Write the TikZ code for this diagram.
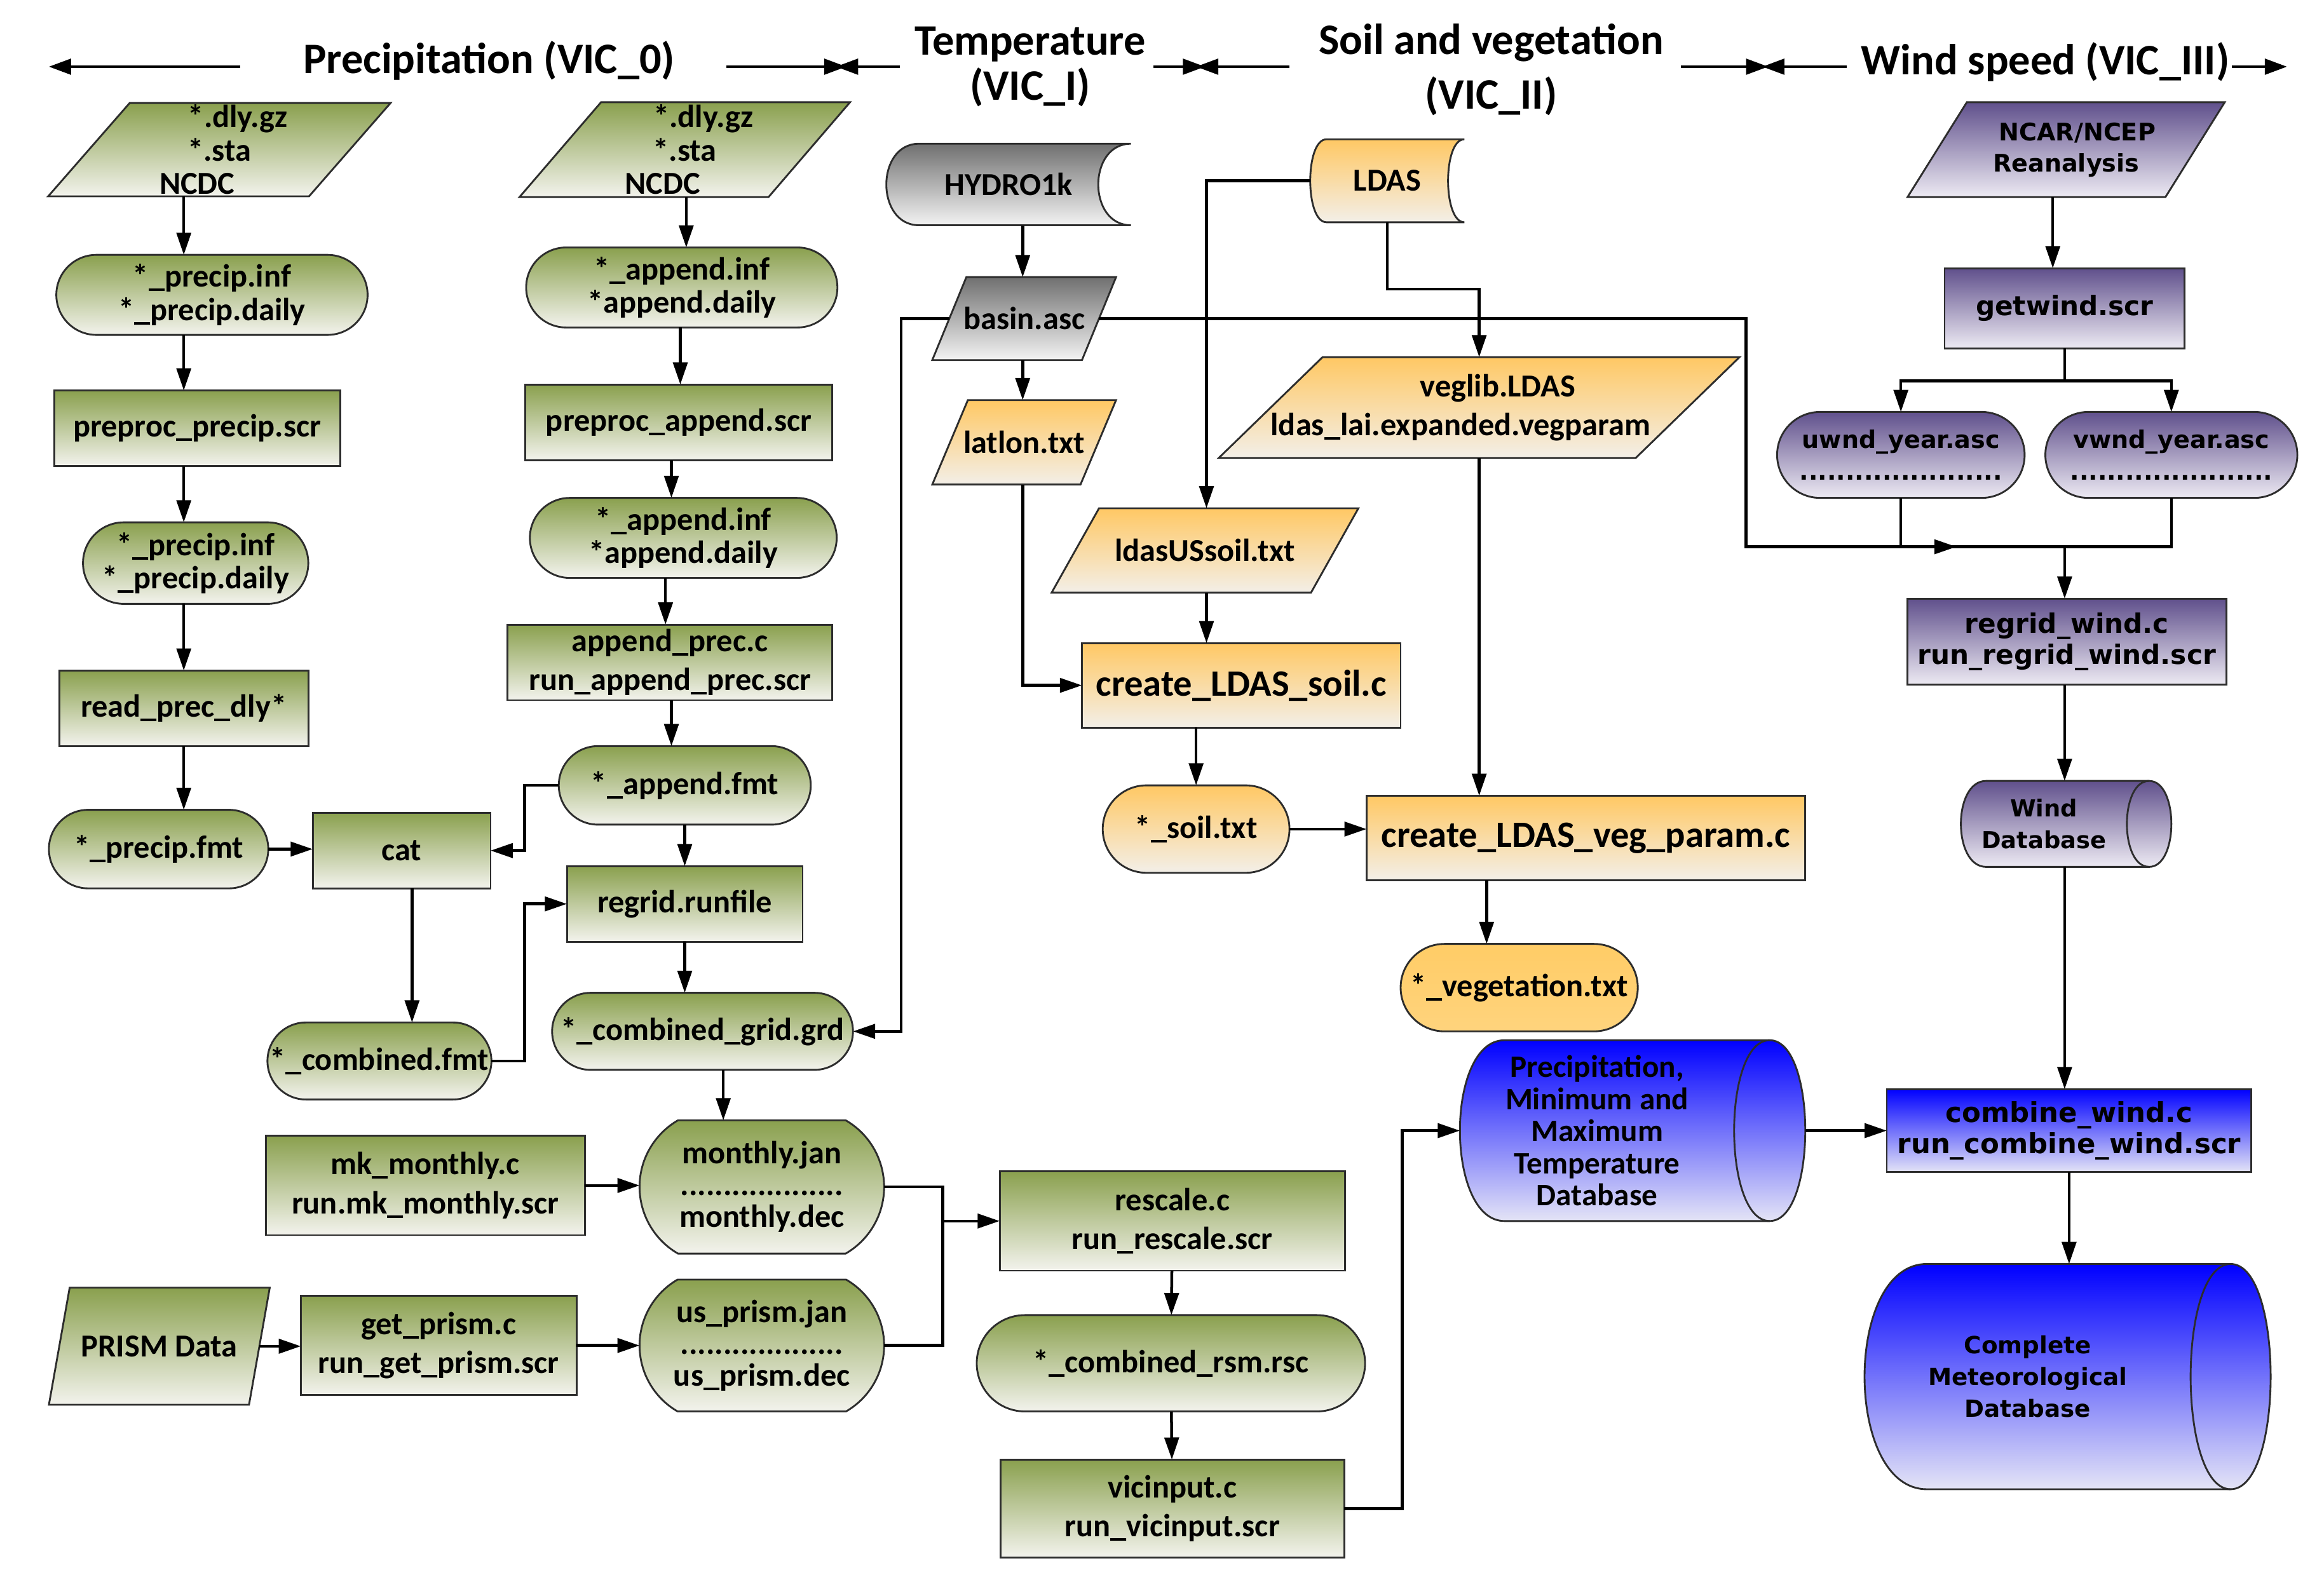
\documentclass[tikz,border=0pt]{standalone}
\usepackage{fontspec}
\setmainfont{Carlito}
\newfontfamily\dvfont{DejaVu Sans}
\usetikzlibrary{shapes.misc,arrows.meta,calc}
\pgfdeclarelayer{bg}
\pgfsetlayers{bg,main}
\definecolor{gtop}{RGB}{138,160,78}
\definecolor{gbot}{RGB}{243,243,237}
\definecolor{otop}{RGB}{255,200,100}
\definecolor{obot}{RGB}{243,239,232}
\definecolor{ktop}{RGB}{112,112,112}
\definecolor{kbot}{RGB}{243,243,243}
\definecolor{ptop}{RGB}{96,80,140}
\definecolor{pbot}{RGB}{237,234,243}
\definecolor{btop}{RGB}{0,0,255}
\definecolor{bbot}{RGB}{228,228,246}
\definecolor{vegc}{RGB}{255,204,102}
\definecolor{bord}{RGB}{45,45,45}
\tikzset{
  wh/.style 2 args={minimum width=#1*0.02cm, minimum height=#2*0.02cm},
  base/.style={inner sep=0pt, outer sep=0pt, align=center},
  frame/.style={draw=bord, line width=0.7pt},
  G/.style={top color=gtop, bottom color=gbot},
  O/.style={top color=otop, bottom color=obot},
  K/.style={top color=ktop, bottom color=kbot},
  P/.style={top color=ptop, bottom color=pbot},
  B/.style={top color=btop, bottom color=bbot},
  V/.style={top color=vegc, bottom color=vegc!85!white},
  gf/.style={font=\bfseries\fontsize{12.3}{12.8}\selectfont},
  gf2/.style={font=\bfseries\fontsize{12.3}{15}\selectfont},
  gf3/.style={font=\bfseries\fontsize{12.3}{12.2}\selectfont},
  of/.style={font=\bfseries\fontsize{14.3}{15}\selectfont},
  df/.style={font=\dvfont\bfseries\fontsize{10.3}{12}\selectfont},
  dfs/.style={font=\dvfont\bfseries\fontsize{9.3}{12}\selectfont},
  tf/.style={font=\bfseries\fontsize{16.7}{17.5}\selectfont},
  box/.style={base, frame, rectangle},
  stad/.style={base, frame, rounded rectangle},
  mon/.style={base, frame, rounded rectangle, rounded rectangle arc length=120},
  ph/.style={base},
  ln/.style={line width=1.1pt, draw=black},
  conn/.style={ln, -{Triangle[length=8.5pt,width=5.5pt]}},
  tarr/.style={line width=1pt, -{Triangle[length=8.5pt,width=6pt]}},
}
\newcommand\para[9]{%
  \node[ph,#8,wh={#4}{#5}] (#1) at (#2,#3) {#9};
  \begin{pgfonlayer}{bg}
  \shade[frame,#7] ($(#1.north west)+(#6/2,0)$) -- ($(#1.north east)+(#6/2,0)$)
     -- ($(#1.south east)+(-#6/2,0)$) -- ($(#1.south west)+(-#6/2,0)$) -- cycle;
  \end{pgfonlayer}}
\newcommand\stored[8]{%
  \node[ph,gf,wh={#4}{#5}] (#1) at (#2,#3) {#8};
  \begin{pgfonlayer}{bg}
  \shade[frame,#7] (#1.north east) -- ($(#1.north west)+(#6,0)$)
     .. controls ($(#1.north west)+(-#6/3,0)$) and ($(#1.south west)+(-#6/3,0)$) .. ($(#1.south west)+(#6,0)$)
     -- (#1.south east)
     .. controls ($(#1.south east)+(-4*#6/3,0)$) and ($(#1.north east)+(-4*#6/3,0)$) .. (#1.north east) -- cycle;
  \end{pgfonlayer}}
\newcommand\cyl[8]{%
  \node[ph,wh={#4}{#5}] (#1) at (#2,#3) {};
  \begin{pgfonlayer}{bg}
  \shade[frame,#8] ($(#1.north west)+(#6,0)$) -- ($(#1.north east)+(-#7,0)$)
     .. controls ($(#1.north east)+(#7/3,0)$) and ($(#1.south east)+(#7/3,0)$) .. ($(#1.south east)+(-#7,0)$)
     -- ($(#1.south west)+(#6,0)$)
     .. controls ($(#1.south west)+(-#6/3,0)$) and ($(#1.north west)+(-#6/3,0)$) .. ($(#1.north west)+(#6,0)$) -- cycle;
  \draw[frame] ($(#1.north east)+(-#7,0)$)
     .. controls ($(#1.north east)+(-#7-4*#7/3,0)$) and ($(#1.south east)+(-#7-4*#7/3,0)$) .. ($(#1.south east)+(-#7,0)$);
  \end{pgfonlayer}}
\newcommand\vconn[3]{\draw[conn] (#1.south -| X#3) -- (#2.north -| X#3);}

\begin{document}
\begin{tikzpicture}[x=0.02cm,y=-0.02cm]
\useasboundingbox (0,0) rectangle (1568,1072);
\foreach \v in {124,278,354,463,459,453,449,462,488,608,636,946,690,1178,1385,814,1003,1396,1393}
  \coordinate (X\v) at (\v,0);
\coordinate (Y195) at (0,195);
\coordinate (mrg) at (1393,369);
\coordinate (mtip) at (1320,369);
\coordinate (split) at (1393,257);

% ---------- titles ----------
\node[base,tf] (t1) at (330,41) {Precipitation (VIC\_0)};
\node[base,tf] (t2) at (695,45) {Temperature\\(VIC\_I)};
\node[base,tf,font=\bfseries\fontsize{16.7}{21}\selectfont] (t3) at (1006,47) {Soil and vegetation\\(VIC\_II)};
\node[base,tf] (t4) at (1380,42) {Wind speed (VIC\_III)};
\coordinate (h1a) at (162,45); \coordinate (h1b) at (33,45);
\coordinate (h2a) at (490,45); \coordinate (h2b) at (571,45);
\coordinate (h3a) at (607,45); \coordinate (h3b) at (564,45);
\coordinate (h4a) at (778,45); \coordinate (h4b) at (813,45);
\coordinate (h5a) at (870,45); \coordinate (h5b) at (807,45);
\coordinate (h6a) at (1134,45); \coordinate (h6b) at (1193,45);
\coordinate (h7a) at (1246,45); \coordinate (h7b) at (1189,45);
\coordinate (h8a) at (1506,45); \coordinate (h8b) at (1543,45);
\draw[tarr] (h1a) -- (h1b);
\draw[tarr] (h2a) -- (h2b);
\draw[tarr] (h3a) -- (h3b);
\draw[tarr] (h4a) -- (h4b);
\draw[tarr] (h5a) -- (h5b);
\draw[tarr] (h6a) -- (h6b);
\draw[tarr] (h7a) -- (h7b);
\draw[tarr] (h8a) -- (h8b);

% ---------- precipitation column 1 ----------
\para{ncdcA}{148}{101}{176}{63}{55}{G}{gf}{\hspace*{0.5cm}*.dly.gz\\*.sta\\NCDC\hspace*{0.6cm}}
\node[stad,G,gf,wh={210}{54}] (pinfA) at (143,199) {*\_precip.inf\\*\_precip.daily};
\node[box,G,gf,wh={193}{51}] (ppA) at (133,289) {preproc\_precip.scr};
\node[stad,G,gf,wh={152}{55}] (pinfB) at (132,380) {*\_precip.inf\\*\_precip.daily};
\node[box,G,gf,wh={168}{51}] (rpd) at (124,478) {read\_prec\_dly*};
\node[stad,G,gf,wh={148}{53}] (pfmt) at (107,573) {*\_precip.fmt};
\node[box,G,gf,wh={120}{51}] (cat) at (271,574) {cat};
\node[stad,G,gf,wh={149}{52}] (cfmt) at (256,716) {*\_combined.fmt};

% ---------- precipitation column 2 ----------
\para{ncdcB}{462}{101}{168}{64}{55}{G}{gf}{\hspace*{0.5cm}*.dly.gz\\*.sta\\NCDC\hspace*{0.6cm}}
\node[stad,G,gf,wh={210}{54}] (ainfA) at (460,194) {*\_append.inf\\*append.daily};
\node[box,G,gf,wh={207}{51}] (ppB) at (458,285) {preproc\_append.scr};
\node[stad,G,gf,wh={207}{54}] (ainfB) at (461,363) {*\_append.inf\\*append.daily};
\node[box,G,gf2,wh={219}{51}] (apc) at (452,447) {append\_prec.c\\run\_append\_prec.scr};
\node[stad,G,gf,wh={170}{53}] (afmt) at (462,530) {*\_append.fmt};
\node[box,G,gf,wh={159}{51}] (rgr) at (462,610) {regrid.runfile};
\node[stad,G,gf,wh={203}{52}] (cgrd) at (474,696) {*\_combined\_grid.grd};
\node[box,G,gf2,wh={215}{67}] (mkm) at (287,800) {mk\_monthly.c\\run.mk\_monthly.scr};
\node[mon,G,gf3,wh={165}{90}] (mon) at (514,801) {monthly.jan\\...................\\monthly.dec};
\para{prism}{107.5}{908.5}{135}{79}{14}{G}{gf}{PRISM Data}
\node[box,G,gf2,wh={186}{67}] (gpr) at (296,908) {get\_prism.c\\run\_get\_prism.scr};
\node[mon,G,gf3,wh={165}{89}] (usp) at (514,908) {us\_prism.jan\\...................\\us\_prism.dec};
\node[box,G,gf2,wh={233}{67}] (rsc) at (791,824) {rescale.c\\run\_rescale.scr};
\node[stad,G,gf,wh={262}{65}] (crsm) at (790,920) {*\_combined\_rsm.rsc};
\node[box,G,gf2,wh={232}{66}] (vic) at (791,1018) {vicinput.c\\run\_vicinput.scr};

% ---------- temperature ----------
\stored{hydro}{680.5}{124.5}{165}{55}{22}{K}{HYDRO1k}
\para{basin}{691}{215}{101}{56}{23}{K}{gf}{basin.asc}
\para{latlon}{691}{298.5}{100}{57}{24}{O}{gf}{latlon.txt}

% ---------- soil and vegetation ----------
\stored{ldas}{936}{122}{104}{56}{11}{O}{LDAS}
\para{veglib}{998}{275}{281}{68}{70}{O}{gf2}{\hspace*{0.5cm}veglib.LDAS\\ldas\_lai.expanded.vegparam\hspace*{0.5cm}}
\para{lsoil}{813}{371.5}{175}{57}{32}{O}{gf}{ldasUSsoil.txt}
\node[box,O,of,wh={215}{57}] (csoil) at (837.5,462.5) {create\_LDAS\_soil.c};
\node[stad,O,gf,wh={126}{59}] (soil) at (807,559.5) {*\_soil.txt};
\node[box,O,of,wh={296}{57}] (cveg) at (1070,565.5) {create\_LDAS\_veg\_param.c};
\node[stad,V,gf,wh={160}{59}] (veg) at (1025,666.5) {*\_vegetation.txt};

% ---------- databases ----------
\cyl{pdb}{1101.5}{763}{233}{122}{30}{24}{B}
\node[base,font=\bfseries\fontsize{12}{12.3}\selectfont] (pdbt) at ($(pdb)+(-24,0)$) {Precipitation,\\Minimum and\\Maximum\\Temperature\\Database};
\node[box,B,df,font=\dvfont\bfseries\fontsize{10.6}{12}\selectfont,wh={246}{56}] (cw) at (1396,763) {combine\_wind.c\\run\_combine\_wind.scr};
\cyl{cmd}{1395}{929}{274}{152}{42}{27}{B}
\node[base,dfs,font=\dvfont\bfseries\fontsize{9.1}{12.2}\selectfont] (cmdt) at ($(cmd)+(-27,0)$) {Complete\\Meteorological\\Database};

% ---------- wind ----------
\para{ncar}{1394}{101}{174}{64}{40}{P}{dfs}{\hspace*{0.3cm}NCAR/NCEP\\Reanalysis}
\node[box,P,df,wh={162}{54}] (gw) at (1393,208) {getwind.scr};
\node[stad,P,dfs,wh={167}{58}] (uw) at (1282.5,307) {uwnd\_year.asc\\......................};
\node[stad,P,dfs,wh={170}{58}] (vw) at (1465,307) {vwnd\_year.asc\\......................};
\node[box,P,df,wh={215}{58}] (rw) at (1394.5,433) {regrid\_wind.c\\run\_regrid\_wind.scr};
\cyl{wdb}{1394}{556}{142}{58}{17}{15}{P}
\node[base,dfs,font=\dvfont\bfseries\fontsize{9}{12}\selectfont] (wdbt) at ($(wdb)+(-15,0)$) {Wind\\Database};

% ---------- connectors: column 1 ----------
\vconn{ncdcA}{pinfA}{124}
\vconn{pinfA}{ppA}{124}
\vconn{ppA}{pinfB}{124}
\vconn{pinfB}{rpd}{124}
\vconn{rpd}{pfmt}{124}
\draw[conn] (pfmt.east) -- (pfmt.east -| cat.west);
\vconn{cat}{cfmt}{278}
\draw[conn] (cfmt.east) -- (cfmt.east -| X354) |- (rgr.west);
\draw[conn] (afmt.west) -- (afmt.west -| X354) |- (cat.east);

% ---------- connectors: column 2 ----------
\vconn{ncdcB}{ainfA}{463}
\vconn{ainfA}{ppB}{459}
\vconn{ppB}{ainfB}{453}
\vconn{ainfB}{apc}{449}
\vconn{apc}{afmt}{453}
\vconn{afmt}{rgr}{462}
\vconn{rgr}{cgrd}{462}
\vconn{cgrd}{mon}{488}
\draw[conn] (basin.west) -- (basin.west -| X608) |- (cgrd.east);
\draw[conn] (mkm.east) -- (mkm.east -| mon.west);
\draw[conn] (prism.east) -- (prism.east -| gpr.west);
\draw[conn] (gpr.east) -- (gpr.east -| usp.west);
\draw[ln] (mon.east) -| (usp.east -| X636) -- (usp.east);
\draw[conn] (rsc.west -| X636) -- (rsc.west);
\draw[conn] (rsc) -- (crsm);
\draw[conn] (crsm) -- (vic);
\draw[conn] (vic.east) -- (vic.east -| X946) |- (pdb.west);

% ---------- connectors: temperature ----------
\vconn{hydro}{basin}{690}
\vconn{basin}{latlon}{690}
\draw[conn] (latlon.south -| X690) |- (csoil.west);
\draw[conn] (basin.east) -- (basin.east -| X1178) |- (mtip);

% ---------- connectors: soil and vegetation ----------
\draw[conn] (ldas.west) -| (X814 |- lsoil.north);
\draw[conn] (ldas.south) -- (ldas.south |- Y195) -| (veglib.north);
\draw[conn] (veglib.south) -- (veglib.south |- cveg.north);
\vconn{lsoil}{csoil}{814}
\draw[conn] (csoil.south -| soil.north) -- (soil.north);
\draw[conn] (soil.east) -- (soil.east -| cveg.west);
\vconn{cveg}{veg}{1003}

% ---------- connectors: wind ----------
\vconn{ncar}{gw}{1385}
\draw[ln] (gw.south) -- (split);
\draw[conn] (split) -| (uw.north);
\draw[conn] (split) -| (vw.north);
\draw[ln] (uw.south) -- (uw.south |- mrg) -- (vw.south |- mrg) -- (vw.south);
\draw[conn] (mrg) -- (rw.north -| mrg);
\vconn{rw}{wdb}{1393}
\vconn{wdb}{cw}{1393}
\draw[conn] (pdb.east) -- (pdb.east -| cw.west);
\vconn{cw}{cmd}{1396}
\end{tikzpicture}
\end{document}
